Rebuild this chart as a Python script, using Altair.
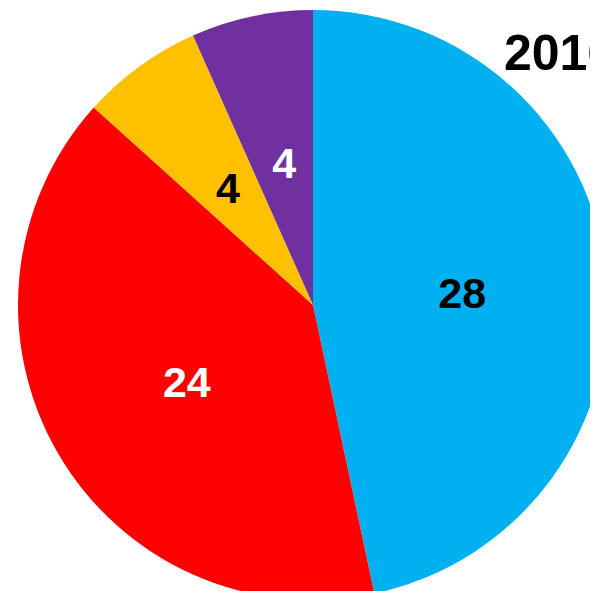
import altair as alt
import pandas as pd

categories = ["A", "B", "C", "D"]
values = [28, 24, 4, 4]
colors = ["#00B0F0", "#FF0000", "#FFC000", "#7030A0"]
label_colors = ["#000000", "#FFFFFF", "#000000", "#FFFFFF"]
title_text = "2016"

df = pd.DataFrame({
    "cat": categories,
    "value": values,
    "order": list(range(len(categories))),
    "label_color": label_colors,
})

cx, cy = 305, 297

base = alt.Chart(df).encode(
    theta=alt.Theta("value:Q", stack=True),
    order=alt.Order("order:Q"),
    x=alt.value(cx),
    y=alt.value(cy),
)

pie = base.mark_arc(radius=295, stroke=None).encode(
    color=alt.Color("cat:N", scale=alt.Scale(domain=categories, range=colors), legend=None)
)

labels = base.mark_text(
    radius=148, font="Liberation Sans", fontWeight="bold", fontSize=43,
    align="center", baseline="middle", dx=2, dy=5,
).encode(
    text=alt.Text("value:Q"),
    color=alt.Color("label_color:N", scale=None),
)

title = alt.Chart(pd.DataFrame({"t": [title_text]})).mark_text(
    font="Liberation Sans", fontWeight="bold", fontSize=50,
    align="left", baseline="alphabetic", color="#000000",
).encode(text="t:N", x=alt.value(496), y=alt.value(62))

chart = alt.layer(pie, labels, title).properties(
    width=582, height=583, autosize=alt.AutoSizeParams(type="none"), padding=0
).configure_view(stroke=None)

chart.save("out.html", embed_options={"renderer": "svg", "actions": False})
